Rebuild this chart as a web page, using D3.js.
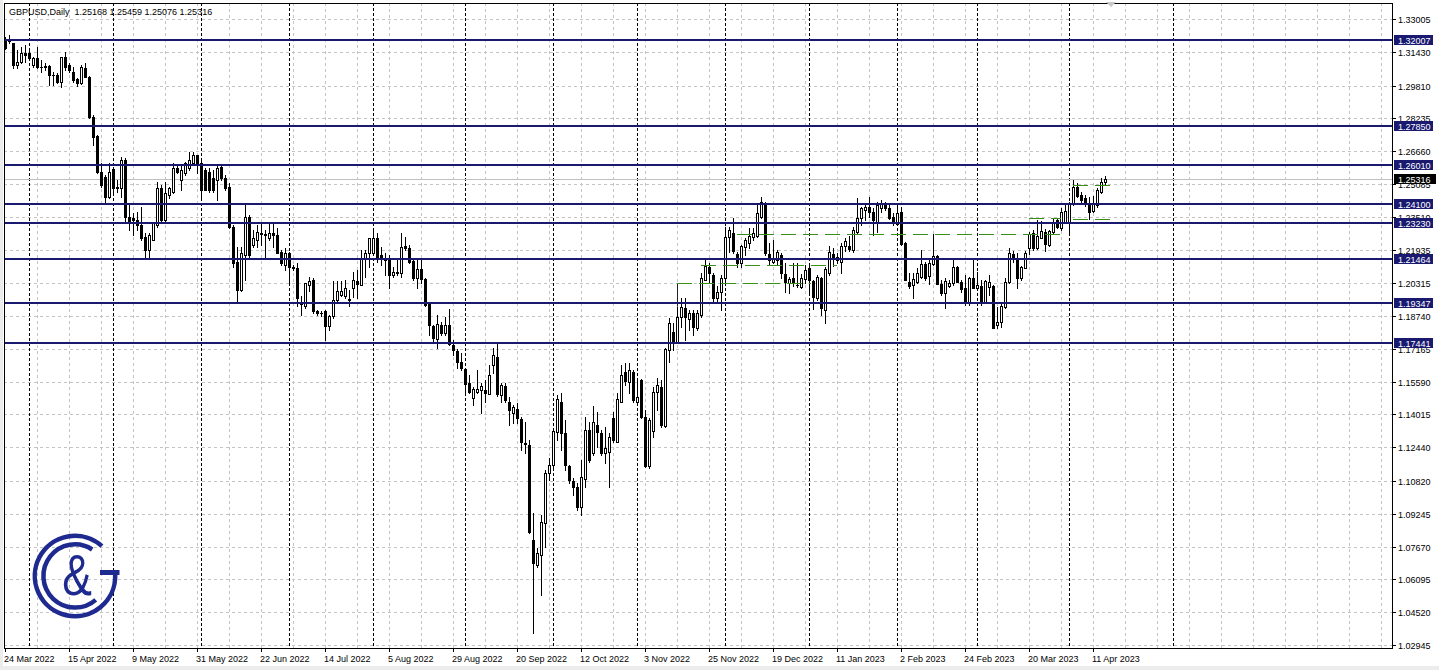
<!DOCTYPE html>
<html><head><meta charset="utf-8">
<script src="https://cdn.jsdelivr.net/npm/d3@7"></script>
<style>html,body{margin:0;padding:0;background:#fff;overflow:hidden}</style>
</head><body><svg id="c" width="1439" height="670"></svg>
<script>
const symbolTitle = "GBPUSD,Daily";
const open = [
1.3203,1.3196,1.3184,1.3080,1.3096,1.3136,1.3136,1.3080,1.3112,1.3072,
1.3070,1.3077,1.3032,1.3032,1.3000,1.3120,1.3080,1.3048,1.3013,1.2995,
1.3064,1.3024,1.2832,1.2739,1.2568,1.2544,1.2448,1.2579,1.2496,1.2488,
1.2624,1.2352,1.2344,1.2333,1.2312,1.2253,1.2192,1.2240,1.2312,1.2488,
1.2336,1.2456,1.2472,1.2584,1.2528,1.2560,1.2584,1.2608,1.2648,1.2608,
1.2576,1.2568,1.2536,1.2528,1.2592,1.2536,1.2496,1.2304,1.2136,1.2000,
1.2168,1.2352,1.2216,1.2240,1.2272,1.2268,1.2248,1.2272,1.2264,1.2184,
1.2120,1.2176,1.2112,1.2104,1.1936,1.1920,1.2024,1.2048,1.1896,1.1890,
1.1896,1.1824,1.1872,1.1952,1.1976,1.1968,1.1952,1.2007,1.2043,1.2023,
1.2151,1.2175,1.2175,1.2247,1.2167,1.2143,1.2155,1.2071,1.2087,1.2079,
1.2210,1.2199,1.2140,1.2055,1.2098,1.2050,1.1935,1.1826,1.1762,1.1831,
1.1791,1.1831,1.1735,1.1706,1.1655,1.1618,1.1551,1.1479,1.1511,1.1519,
1.1519,1.1500,1.1639,1.1679,1.1495,1.1540,1.1463,1.1410,1.1426,1.1378,
1.1266,1.1253,1.0799,1.0679,1.0727,1.0879,1.1119,1.1159,1.1319,1.1463,
1.1311,1.1154,1.1084,1.1055,1.0959,1.1090,1.1327,1.1215,1.1351,1.1314,
1.1215,1.1223,1.1383,1.1271,1.1463,1.1607,1.1559,1.1607,1.1463,1.1567,
1.1388,1.1154,1.1320,1.1511,1.1535,1.1346,1.1711,1.1799,1.1743,1.1871,
1.1911,1.1858,1.1890,1.1815,1.1879,1.2047,1.2108,1.2071,1.1959,1.1990,
1.2055,1.2252,1.2274,1.2172,1.2127,1.2204,1.2223,1.2252,1.2258,1.2351,
1.2415,1.2172,1.2135,1.2143,1.2167,1.2074,1.2031,1.2055,1.2023,1.2012,
1.2050,1.2103,1.2044,1.1959,1.2055,1.1903,1.2079,1.2172,1.2143,1.2135,
1.2210,1.2210,1.2191,1.2279,1.2343,1.2383,1.2396,1.2375,1.2322,1.2391,
1.2410,1.2391,1.2351,1.2314,1.2372,1.2223,1.2039,1.2023,1.2039,1.2063,
1.2122,1.2068,1.2122,1.2164,1.2026,1.1983,1.2020,1.2031,1.2108,1.2039,
1.2010,1.1940,1.2055,1.2010,1.2020,1.1940,1.2015,1.2020,1.1831,1.1847,
1.1919,1.2036,1.2170,1.2151,1.2055,1.2106,1.2199,1.2271,1.2202,1.2250,
1.2279,1.2215,1.2279,1.2335,1.2295,1.2324,1.2324,1.2410,1.2495,1.2455,
1.2439,1.2415,1.2378,1.2407,1.2471,1.25168];
const high = [
1.3216,1.3224,1.3187,1.3152,1.3168,1.3176,1.3152,1.3120,1.3168,1.3104,
1.3088,1.3080,1.3048,1.3040,1.3120,1.3144,1.3088,1.3072,1.3016,1.3080,
1.3088,1.3027,1.2840,1.2744,1.2608,1.2552,1.2608,1.2592,1.2528,1.2640,
1.2632,1.2408,1.2368,1.2376,1.2400,1.2272,1.2272,1.2328,1.2520,1.2504,
1.2520,1.2496,1.2608,1.2600,1.2600,1.2616,1.2664,1.2664,1.2648,1.2624,
1.2584,1.2584,1.2576,1.2600,1.2600,1.2552,1.2512,1.2312,1.2208,1.2208,
1.2408,1.2360,1.2288,1.2312,1.2320,1.2288,1.2328,1.2328,1.2296,1.2192,
1.2200,1.2184,1.2120,1.2128,1.1968,1.2032,1.2064,1.2056,1.1904,1.1900,
1.1904,1.1880,1.2040,1.2040,1.2040,1.2048,1.2000,1.2087,1.2095,1.2191,
1.2191,1.2247,1.2290,1.2271,1.2207,1.2175,1.2167,1.2111,1.2143,1.2274,
1.2255,1.2215,1.2151,1.2143,1.2143,1.2055,1.1938,1.1831,1.1879,1.1847,
1.1868,1.1906,1.1759,1.1714,1.1695,1.1623,1.1591,1.1535,1.1615,1.1551,
1.1567,1.1639,1.1719,1.1740,1.1551,1.1551,1.1487,1.1447,1.1455,1.1391,
1.1367,1.1279,1.0930,1.0759,1.0919,1.1135,1.1191,1.1327,1.1495,1.1503,
1.1375,1.1159,1.1095,1.1071,1.1183,1.1391,1.1367,1.1442,1.1415,1.1327,
1.1343,1.1311,1.1415,1.1503,1.1639,1.1647,1.1647,1.1615,1.1567,1.1570,
1.1423,1.1383,1.1535,1.1575,1.1567,1.1719,1.1863,1.1839,1.1919,1.1959,
1.1959,1.1903,1.1903,1.1903,1.2079,1.2146,1.2130,1.2079,1.2020,1.2071,
1.2303,1.2303,1.2343,1.2183,1.2215,1.2247,1.2295,1.2295,1.2418,1.2444,
1.2423,1.2223,1.2239,1.2191,1.2175,1.2127,1.2063,1.2127,1.2127,1.2076,
1.2119,1.2114,1.2047,1.2071,1.2060,1.2108,1.2210,1.2199,1.2178,1.2223,
1.2247,1.2258,1.2303,1.2439,1.2399,1.2407,1.2447,1.2391,1.2423,1.2431,
1.2423,1.2415,1.2367,1.2415,1.2399,1.2231,1.2079,1.2079,1.2103,1.2191,
1.2135,1.2148,1.2266,1.2167,1.2047,1.2055,1.2047,1.2148,1.2116,1.2047,
1.2071,1.2063,1.2143,1.2087,1.2047,1.2047,1.2071,1.2023,1.1919,1.1930,
1.2058,1.2199,1.2186,1.2175,1.2116,1.2186,1.2276,1.2287,1.2335,1.2330,
1.2292,1.2287,1.2343,1.2343,1.2391,1.2415,1.2423,1.2527,1.2511,1.2471,
1.2455,1.2447,1.2452,1.2487,1.2535,1.25459];
const low = [
1.3155,1.3184,1.3064,1.3064,1.3088,1.3096,1.3104,1.3072,1.3064,1.3048,
1.3056,1.2984,1.2984,1.2992,1.2973,1.3056,1.3048,1.3000,1.2979,1.2990,
1.3024,1.2824,1.2696,1.2560,1.2496,1.2416,1.2440,1.2464,1.2472,1.2448,
1.2328,1.2288,1.2264,1.2288,1.2240,1.2160,1.2152,1.2240,1.2304,1.2328,
1.2328,1.2440,1.2464,1.2560,1.2480,1.2552,1.2576,1.2600,1.2560,1.2440,
1.2480,1.2472,1.2472,1.2432,1.2528,1.2480,1.2296,1.2112,1.1944,1.1992,
1.2048,1.2160,1.2208,1.2208,1.2216,1.2160,1.2240,1.2208,1.2176,1.2120,
1.2096,1.2024,1.2096,1.1920,1.1880,1.1912,1.1992,1.1888,1.1880,1.1876,
1.1760,1.1808,1.1864,1.1944,1.1968,1.1960,1.1920,1.1967,1.1959,1.2023,
1.2063,1.2111,1.2167,1.2135,1.2119,1.2071,1.2007,1.2063,1.2071,1.2063,
1.2191,1.2127,1.2047,1.2007,1.2031,1.1922,1.1783,1.1751,1.1719,1.1783,
1.1783,1.1735,1.1687,1.1623,1.1615,1.1503,1.1503,1.1447,1.1503,1.1407,
1.1463,1.1500,1.1599,1.1490,1.1463,1.1463,1.1351,1.1359,1.1359,1.1231,
1.1215,1.0831,1.0351,1.0671,1.0535,1.0767,1.1087,1.1151,1.1279,1.1231,
1.1135,1.1071,1.1015,1.0943,1.0919,1.1055,1.1175,1.1207,1.1247,1.1207,
1.1167,1.1055,1.1271,1.1271,1.1463,1.1543,1.1503,1.1463,1.1455,1.1383,
1.1151,1.1143,1.1295,1.1423,1.1343,1.1343,1.1655,1.1711,1.1743,1.1823,
1.1759,1.1807,1.1783,1.1807,1.1871,1.2047,1.2031,1.1943,1.1938,1.1903,
1.2031,1.2183,1.2175,1.2111,1.2108,1.2167,1.2199,1.2239,1.2255,1.2343,
1.2167,1.2119,1.2127,1.2119,1.2055,1.1991,1.1983,1.2018,1.2015,1.2007,
1.2031,1.1991,1.1906,1.1951,1.1879,1.1842,1.2071,1.2114,1.2130,1.2082,
1.2188,1.2188,1.2183,1.2274,1.2311,1.2335,1.2351,1.2263,1.2279,1.2375,
1.2383,1.2340,1.2311,1.2311,1.2215,1.2047,1.2007,1.1962,1.2031,1.2055,
1.2047,1.2026,1.2119,1.2026,1.1975,1.1914,1.2015,1.2023,1.2036,1.1991,
1.1927,1.1927,1.2007,1.2004,1.1927,1.1935,1.1975,1.1815,1.1815,1.1823,
1.1911,1.2031,1.2135,1.2010,1.2047,1.2103,1.2170,1.2191,1.2196,1.2247,
1.2186,1.2212,1.2271,1.2295,1.2287,1.2319,1.2271,1.2407,1.2447,1.2423,
1.2404,1.2340,1.2372,1.2399,1.2463,1.25076];
const close = [
1.3160,1.3200,1.3080,1.3096,1.3136,1.3128,1.3112,1.3112,1.3072,1.3070,
1.3074,1.3032,1.3030,1.3000,1.3120,1.3072,1.3056,1.3008,1.2995,1.3072,
1.3024,1.2832,1.2736,1.2568,1.2504,1.2448,1.2568,1.2488,1.2488,1.2624,
1.2352,1.2328,1.2336,1.2312,1.2248,1.2192,1.2264,1.2320,1.2488,1.2336,
1.2464,1.2488,1.2584,1.2568,1.2576,1.2608,1.2624,1.2648,1.2600,1.2480,
1.2480,1.2480,1.2480,1.2584,1.2536,1.2488,1.2304,1.2128,1.2000,1.2176,
1.2352,1.2168,1.2248,1.2280,1.2268,1.2264,1.2272,1.2264,1.2176,1.2128,
1.2176,1.2112,1.2104,1.1960,1.1930,1.2032,1.2040,1.1896,1.1890,1.1888,
1.1824,1.1872,1.1952,1.1992,1.1992,1.2008,1.1956,1.2047,1.2027,1.2151,
1.2175,1.2247,1.2247,1.2159,1.2151,1.2155,1.2071,1.2087,1.2079,1.2207,
1.2199,1.2135,1.2055,1.2098,1.2050,1.1927,1.1831,1.1767,1.1836,1.1791,
1.1831,1.1740,1.1711,1.1655,1.1623,1.1548,1.1511,1.1522,1.1522,1.1538,
1.1503,1.1591,1.1687,1.1500,1.1543,1.1471,1.1423,1.1436,1.1383,1.1268,
1.1258,1.0839,1.0687,1.0735,1.0887,1.1119,1.1159,1.1324,1.1474,1.1311,
1.1159,1.1087,1.1055,1.0959,1.1100,1.1327,1.1183,1.1367,1.1319,1.1215,
1.1239,1.1295,1.1279,1.1476,1.1591,1.1564,1.1615,1.1471,1.1487,1.1388,
1.1154,1.1375,1.1511,1.1543,1.1351,1.1714,1.1839,1.1751,1.1871,1.1919,
1.1868,1.1887,1.1823,1.1887,1.2055,1.2114,1.2082,1.1959,1.1990,1.2055,
1.2255,1.2287,1.2188,1.2130,1.2210,1.2239,1.2258,1.2271,1.2367,1.2423,
1.2175,1.2143,1.2151,1.2183,1.2082,1.2039,1.2050,1.2031,1.2023,1.2055,
1.2095,1.2047,1.1967,1.2060,1.1911,1.2098,1.2183,1.2146,1.2159,1.2210,
1.2236,1.2194,1.2287,1.2343,1.2391,1.2399,1.2375,1.2335,1.2407,1.2415,
1.2391,1.2343,1.2319,1.2367,1.2218,1.2047,1.2020,1.2052,1.2079,1.2122,
1.2055,1.2127,1.2164,1.2026,1.1983,1.2042,1.2031,1.2108,1.2039,1.2004,
1.1940,1.2058,1.2010,1.2023,1.1940,1.2042,1.2036,1.1818,1.1847,1.1924,
1.2036,1.2175,1.2148,1.2055,1.2111,1.2175,1.2266,1.2202,1.2260,1.2282,
1.2218,1.2282,1.2327,1.2303,1.2375,1.2378,1.2410,1.2495,1.2452,1.2431,
1.2410,1.2375,1.2415,1.2479,1.2519,1.25316];

const priceTicks = [1.33005,1.31430,1.29810,1.28235,1.26660,1.25085,1.23510,1.21935,1.20315,1.18740,
  1.17165,1.15590,1.14015,1.12440,1.10820,1.09245,1.07670,1.06095,1.04520,1.02945];
const dateLabels = ["24 Mar 2022","15 Apr 2022","9 May 2022","31 May 2022","22 Jun 2022","14 Jul 2022",
  "5 Aug 2022","29 Aug 2022","20 Sep 2022","12 Oct 2022","3 Nov 2022","25 Nov 2022","19 Dec 2022",
  "11 Jan 2023","2 Feb 2023","24 Feb 2023","20 Mar 2023","11 Apr 2023"];
const barsPerLabel = 16;
const barsPerGrid = 8;
const monthStartBars = [6,27,49,71,92,115,137,158,180,201,223,243,266,292];
const levelPrices = [1.32007,1.27850,1.26010,1.24100,1.23230,1.21464,1.19347,1.17441];
// [price, fromBar, toBar]
const greenLevels = [[1.2031,168,201.5],[1.2119,174,208],[1.2267,183,264.5],[1.2343,256,264],[1.2503,267,277.5],[1.2338,267,277.5]];
const connector = [168, 1.2031, 1.1919];
const visibleBars = 347;

const svg = d3.select("#c");
const Lx = 4, Tp = 3, Rx = 1392, Bt = 648;
const x = d3.scaleLinear().domain([0, visibleBars]).range([5, 1393]);
const y = d3.scaleLinear().domain([1.02945, 1.33005]).range([645, 19]);
const FONT = "'Liberation Sans', Arial, sans-serif";
const NAVY = "#191970";
const GREEN = "#3a8f1a";

svg.append("rect").attr("width",1439).attr("height",670).attr("fill","#fff");
svg.append("rect").attr("x",0).attr("y",0).attr("width",3).attr("height",670).attr("fill","#ececec");
svg.append("rect").attr("x",0).attr("y",666).attr("width",1439).attr("height",4).attr("fill","#ececec");

svg.append("defs").append("clipPath").attr("id","pc").append("rect")
  .attr("x",Lx).attr("y",Tp).attr("width",Rx-Lx).attr("height",Bt-Tp);
const plot = svg.append("g").attr("clip-path","url(#pc)");

// horizontal grid
plot.selectAll("line.hg").data(priceTicks).enter().append("line")
  .attr("x1",Lx).attr("x2",Rx)
  .attr("y1",d=>Math.round(y(d))+0.5).attr("y2",d=>Math.round(y(d))+0.5)
  .attr("stroke","#c4c4c4").attr("stroke-dasharray","3,3");
// vertical grid
const vg = d3.range(barsPerGrid, visibleBars, barsPerGrid);
plot.selectAll("line.vg").data(vg).enter().append("line")
  .attr("x1",d=>Math.round(x(d))+0.5).attr("x2",d=>Math.round(x(d))+0.5)
  .attr("y1",Tp).attr("y2",Bt)
  .attr("stroke","#c4c4c4").attr("stroke-dasharray","3,3");
// month separators
plot.selectAll("line.ms").data(monthStartBars).enter().append("line")
  .attr("x1",d=>Math.round(x(d))+0.5).attr("x2",d=>Math.round(x(d))+0.5)
  .attr("y1",Tp).attr("y2",Bt)
  .attr("stroke","#000").attr("stroke-dasharray","3,2");

// current price line
const last = close[close.length-1];
plot.append("line").attr("x1",Lx).attr("x2",Rx)
  .attr("y1",Math.round(y(last))+0.5).attr("y2",Math.round(y(last))+0.5)
  .attr("stroke","#c0c0c0");

// candles
const cg = plot.append("g").attr("shape-rendering","crispEdges");
open.forEach((o,i)=>{
  const c = close[i];
  const h = Math.max(high[i],o,c), l = Math.min(low[i],o,c);
  const cx = Math.round(x(i));
  cg.append("line").attr("x1",cx+0.5).attr("x2",cx+0.5)
    .attr("y1",Math.round(y(h))).attr("y2",Math.round(y(l))+1).attr("stroke","#000");
  const yt = Math.round(y(Math.max(o,c))), yb = Math.round(y(Math.min(o,c)));
  if (c >= o) {
    if (yb - yt < 1) {
      cg.append("rect").attr("x",cx-1).attr("y",yt).attr("width",3).attr("height",1).attr("fill","#000");
    } else {
      cg.append("rect").attr("x",cx-0.5).attr("y",yt+0.5).attr("width",2).attr("height",yb-yt)
        .attr("fill","#fff").attr("stroke","#000");
    }
  } else {
    cg.append("rect").attr("x",cx-1).attr("y",yt).attr("width",3).attr("height",Math.max(1,yb-yt+1)).attr("fill","#000");
  }
});

// connector and green dashed levels
plot.append("line").attr("x1",Math.round(x(connector[0]))+0.5).attr("x2",Math.round(x(connector[0]))+0.5)
  .attr("y1",y(connector[1])).attr("y2",y(connector[2])).attr("stroke","#222");
plot.selectAll("line.gl").data(greenLevels).enter().append("line")
  .attr("x1",d=>x(d[1])).attr("x2",d=>x(d[2]))
  .attr("y1",d=>Math.round(y(d[0]))+0.5).attr("y2",d=>Math.round(y(d[0]))+0.5)
  .attr("stroke",GREEN).attr("stroke-width",1).attr("stroke-dasharray","15,7");

// navy levels
plot.selectAll("line.lv").data(levelPrices).enter().append("line")
  .attr("x1",Lx).attr("x2",Rx)
  .attr("y1",d=>Math.round(y(d))).attr("y2",d=>Math.round(y(d)))
  .attr("stroke",NAVY).attr("stroke-width",2);

// frame
svg.append("rect").attr("x",Lx+0.5).attr("y",Tp+0.5).attr("width",Rx-Lx).attr("height",Bt-Tp)
  .attr("fill","none").attr("stroke","#000");

// price axis
const ax = svg.append("g").attr("font-family",FONT).attr("font-size",9);
priceTicks.forEach(v=>{
  const yy = Math.round(y(v))+0.5;
  ax.append("line").attr("x1",Rx).attr("x2",Rx+4).attr("y1",yy).attr("y2",yy).attr("stroke","#000");
  ax.append("text").attr("x",Rx+6).attr("y",yy+3).attr("fill","#000").text(v.toFixed(5));
});
// date axis
dateLabels.forEach((t,k)=>{
  const xx = Math.round(x(k*barsPerLabel))+0.5;
  ax.append("line").attr("x1",xx).attr("x2",xx).attr("y1",Bt).attr("y2",Bt+4).attr("stroke","#000");
  ax.append("text").attr("x",xx-1.5).attr("y",662).attr("fill","#000").text(t);
});
// level labels
levelPrices.forEach(p=>{
  const yy = Math.round(y(p));
  ax.append("rect").attr("x",Rx+2).attr("y",yy-5).attr("width",39).attr("height",10).attr("fill",NAVY);
  ax.append("text").attr("x",Rx+6).attr("y",yy+3.5).attr("fill","#fff").text(p.toFixed(5));
});
{
  const yy = Math.round(y(last));
  ax.append("rect").attr("x",Rx+2).attr("y",yy-5).attr("width",42).attr("height",10).attr("fill","#000");
  ax.append("text").attr("x",Rx+6).attr("y",yy+3.5).attr("fill","#fff").text(last.toFixed(5));
}
// header
svg.append("text").attr("x",9).attr("y",14.5).attr("font-family",FONT).attr("font-size",9).attr("fill","#000")
  .attr("xml:space","preserve")
  .text(symbolTitle + "  " + [open,high,low,close].map(a=>a[a.length-1].toFixed(5)).join(" "));
// shift marker
svg.append("path").attr("d","M1106,2L1116,2L1111,7Z").attr("fill","#c8c8c8");

// logo
const LOGO = "#1e2a8f";
const lg = svg.append("g");
const cx0 = 75, cy0 = 576;
const p1 = d3.path(); p1.arc(cx0, cy0, 40.2, -48*Math.PI/180, -2*Math.PI/180, true);
lg.append("path").attr("d",p1.toString()).attr("fill","none").attr("stroke",LOGO).attr("stroke-width",4.5);
lg.append("rect").attr("x",100).attr("y",570).attr("width",19.5).attr("height",5).attr("fill",LOGO);
const p2 = d3.path(); p2.arc(cx0, cy0, 31.6, -57*Math.PI/180, 49*Math.PI/180, true);
lg.append("path").attr("d",p2.toString()).attr("fill","none").attr("stroke",LOGO).attr("stroke-width",4.5);
lg.append("text").attr("transform","translate(77,595) scale(0.78,1)").attr("text-anchor","middle")
  .attr("font-family",FONT).attr("font-size",57).attr("fill",LOGO).text("&");
</script></body></html>
